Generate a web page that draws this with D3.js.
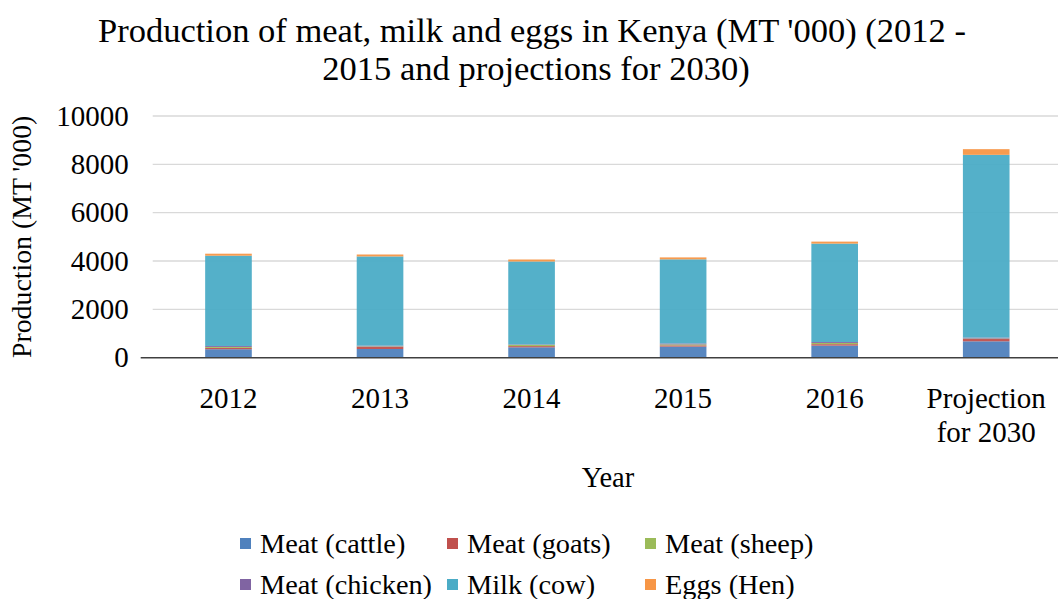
<!DOCTYPE html>
<html>
<head>
<meta charset="utf-8">
<script src="https://cdn.jsdelivr.net/npm/d3@7"></script>
<style>
  html, body { margin: 0; padding: 0; background: #fff; }
  svg { display: block; font-family: "Liberation Serif", "Times New Roman", serif; }
</style>
</head>
<body>
<svg id="chart" width="1058" height="599"></svg>
<script>
// Production in thousand metric tonnes
const years = ["2012", "2013", "2014", "2015", "2016", "Projection for 2030"];
const seriesNames = ["Meat (cattle)", "Meat (goats)", "Meat (sheep)", "Meat (chicken)", "Milk (cow)", "Eggs (Hen)"];
const meatCattle  = [350, 360, 430, 460, 500, 678];
const meatGoats   = [55, 90, 50, 50, 60, 95];
const meatSheep   = [40, 20, 50, 40, 50, 20];
const meatChicken = [40, 30, 20, 40, 40, 40];
const milkCow     = [3735, 3690, 3430, 3480, 4070, 7560];
const eggsHen     = [83, 80, 83, 80, 83, 235];
const yTicks = [0, 2000, 4000, 6000, 8000, 10000];
const colors = ["#4F81BD", "#C0504D", "#9BBB59", "#8064A2", "#4BACC6", "#F79646"];

const seriesValues = [meatCattle, meatGoats, meatSheep, meatChicken, milkCow, eggsHen];
const rows = years.map((y, i) => {
  const r = { year: y };
  seriesNames.forEach((s, k) => { r[s] = seriesValues[k][i]; });
  return r;
});

const svg = d3.select("#chart");
const plot = { left: 152.7, right: 1062, top: 116, bottom: 357.7 };

const x = d3.scaleBand().domain(years).range([plot.left, plot.right]).paddingInner(0.6923).paddingOuter(0.3462);
const y = d3.scaleLinear().domain([0, 10000]).range([plot.bottom, plot.top]);

// Title
const title = svg.append("text").attr("text-anchor", "middle").attr("font-size", 34.5).attr("fill", "#000");
title.append("tspan").attr("x", 532).attr("y", 42).text("Production of meat, milk and eggs in Kenya (MT '000) (2012 -");
title.append("tspan").attr("x", 536).attr("y", 80).text("2015 and projections for 2030)");

// Gridlines
svg.append("g")
  .selectAll("line")
  .data(yTicks.filter(t => t > 0))
  .join("line")
  .attr("x1", plot.left).attr("x2", plot.right)
  .attr("y1", d => y(d)).attr("y2", d => y(d))
  .attr("stroke", "#D9D9D9").attr("stroke-width", 1.3);

// Y axis labels
const yAxis = svg.append("g")
  .attr("transform", `translate(${plot.left},0)`)
  .call(d3.axisLeft(y).tickValues(yTicks).tickSize(0).tickPadding(24).tickFormat(d3.format("d")));
yAxis.select(".domain").remove();
yAxis.selectAll("text").attr("font-size", 29).attr("font-family", "Liberation Serif, serif").attr("fill", "#000");

// Stacked bars
const stack = d3.stack().keys(seriesNames);
const layers = stack(rows);
svg.append("g")
  .selectAll("g")
  .data(layers)
  .join("g")
  .attr("fill", (d, i) => colors[i])
  .selectAll("rect")
  .data(d => d)
  .join("rect")
  .attr("x", d => x(d.data.year))
  .attr("width", x.bandwidth())
  .attr("y", d => y(d[1]))
  .attr("height", d => y(d[0]) - y(d[1]))
  .attr("opacity", 0.95);

// X axis line
svg.append("line")
  .attr("x1", plot.left - 12).attr("x2", plot.right)
  .attr("y1", plot.bottom).attr("y2", plot.bottom)
  .attr("stroke", "#404040").attr("stroke-width", 1.5);

// X axis labels (wrapped)
const xLabels = svg.append("g");
years.forEach(yr => {
  const cx = x(yr) + x.bandwidth() / 2;
  const lines = yr === "Projection for 2030" ? ["Projection", "for 2030"] : [yr];
  const t = xLabels.append("text").attr("text-anchor", "middle").attr("font-size", 29).attr("fill", "#000");
  lines.forEach((ln, i) => {
    t.append("tspan").attr("x", cx).attr("y", 408 + i * 34).text(ln);
  });
});

// Axis titles
svg.append("text")
  .attr("x", 608).attr("y", 487)
  .attr("text-anchor", "middle").attr("font-size", 28.5).text("Year");
svg.append("text")
  .attr("transform", `translate(31,${(plot.top + plot.bottom) / 2}) rotate(-90)`)
  .attr("text-anchor", "middle").attr("font-size", 27.8).text("Production (MT '000)");

// Legend
const legendPos = [
  [240, 553], [447, 553], [645, 553],
  [240, 594], [447, 594], [645, 594]
];
const legend = svg.append("g");
seriesNames.forEach((s, i) => {
  const [lx, ly] = legendPos[i];
  legend.append("rect").attr("x", lx).attr("y", ly - 15).attr("width", 11).attr("height", 11).attr("fill", colors[i]);
  legend.append("text").attr("x", lx + 20).attr("y", ly).attr("font-size", 28.3).text(s);
});
</script>
</body>
</html>
